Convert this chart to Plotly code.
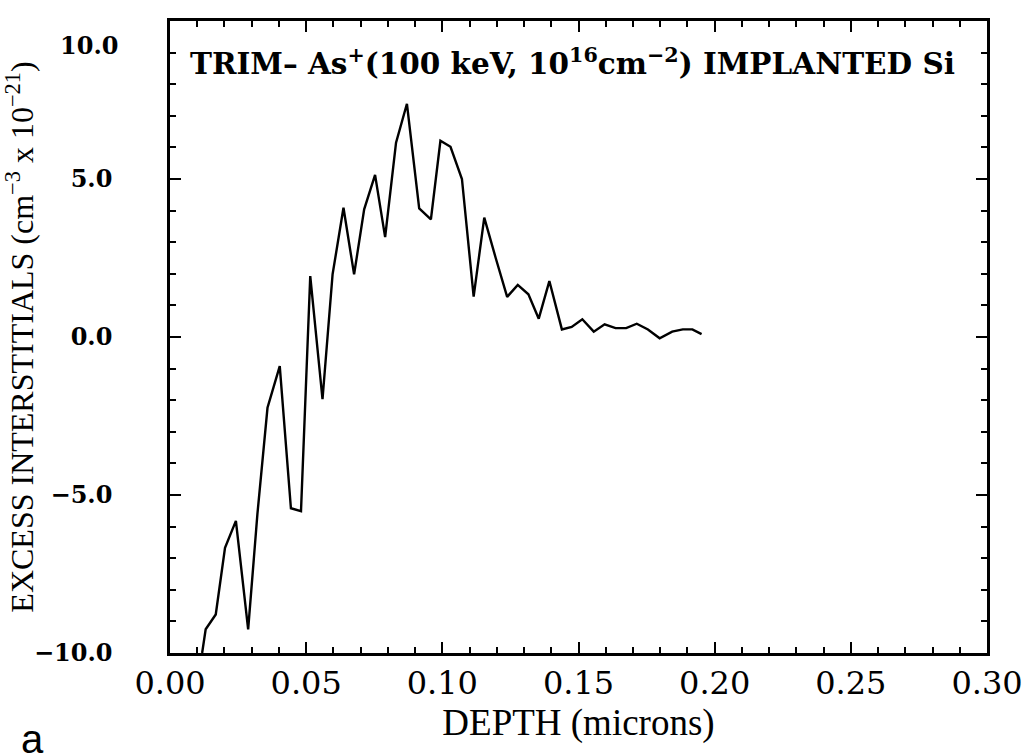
import plotly.graph_objects as go

# Depth (microns) and excess interstitials (x 10^21 cm^-3)
depth = [0.0118, 0.0131, 0.0168, 0.0202, 0.0242, 0.0287, 0.0321, 0.0358, 0.0403,
         0.0444, 0.0481, 0.0515, 0.0560, 0.0597, 0.0637, 0.0676, 0.0713, 0.0753,
         0.0790, 0.0830, 0.0870, 0.0915, 0.0958, 0.0993, 0.1030, 0.1072, 0.1115,
         0.1154, 0.1196, 0.1238, 0.1277, 0.1316, 0.1354, 0.1393, 0.1439, 0.1475,
         0.1514, 0.1556, 0.1596, 0.1636, 0.1675, 0.1714, 0.1755, 0.1798, 0.1844,
         0.1883, 0.1918, 0.1952]
excess = [-10.0, -9.25, -8.78, -6.67, -5.82, -9.25, -5.60, -2.24, -0.92,
          -5.42, -5.51, 1.93, -1.97, 1.98, 4.09, 1.98, 4.04, 5.13,
          3.16, 6.15, 7.38, 4.07, 3.72, 6.21, 6.02, 5.00, 1.28,
          3.78, 2.50, 1.27, 1.65, 1.35, 0.58, 1.77, 0.24, 0.32,
          0.56, 0.17, 0.40, 0.28, 0.28, 0.42, 0.24, -0.04, 0.17,
          0.24, 0.24, 0.09]

x_ticks = [0.00, 0.05, 0.10, 0.15, 0.20, 0.25, 0.30]
x_tick_text = ["0.00", "0.05", "0.10", "0.15", "0.20", "0.25", "0.30"]
y_ticks = [-10, -5, 0, 5, 10]
y_tick_text = ["\u221210.0", "\u22125.0", "0.0", "5.0", ""]

serif_bold = "DejaVu Serif"
serif = "Liberation Serif"

fig = go.Figure()
fig.add_trace(go.Scatter(x=depth, y=excess, mode="lines",
                         line=dict(color="black", width=2.4),
                         showlegend=False, hoverinfo="skip"))

axis_common = dict(showline=True, linecolor="black", linewidth=2.5, mirror="allticks",
                   ticks="inside", tickcolor="black", tickwidth=2, ticklen=11,
                   showgrid=False, zeroline=False, automargin=False)

fig.update_xaxes(range=[0, 0.30], tickvals=x_ticks, ticktext=x_tick_text,
                 tickfont=dict(family="DejaVu Serif", size=32, color="black"),
                 ticklabelstandoff=0,
                 minor=dict(dtick=0.01, ticks="inside", ticklen=6, tickwidth=1.6, tickcolor="black"),
                 title=dict(text="DEPTH (microns)", font=dict(family=serif, size=37, color="black"),
                            standoff=0),
                 **axis_common)
fig.update_yaxes(range=[-10, 10], tickvals=y_ticks, ticktext=y_tick_text,
                 tickfont=dict(family=serif_bold, size=24, color="black", weight="bold"),
                 ticklabelstandoff=50,
                 minor=dict(dtick=1, ticks="inside", ticklen=6, tickwidth=1.6, tickcolor="black"),
                 title=dict(text="EXCESS INTERSTITIALS (cm<sup>\u22123</sup> x 10<sup>\u221221</sup>)",
                            font=dict(family=serif, size=32, color="black"), standoff=0),
                 **axis_common)

fig.add_annotation(xref="paper", yref="paper", x=0, y=1, xanchor="right", yanchor="middle",
                   xshift=-50, yshift=-24, text="10.0", showarrow=False,
                   font=dict(family=serif_bold, size=24, color="black", weight="bold"))
fig.add_annotation(xref="paper", yref="paper", x=0, y=1, xanchor="left", yanchor="middle",
                   xshift=18, yshift=-41,
                   text="TRIM\u2013 As<sup>+</sup>(100 keV, 10<sup>16</sup>cm<sup>\u22122</sup>) IMPLANTED Si",
                   showarrow=False,
                   font=dict(family=serif_bold, size=29.5, color="black", weight="bold"))
fig.add_annotation(xref="paper", yref="paper", x=-0.185, y=-0.136, xanchor="left", yanchor="middle",
                   text="a", showarrow=False,
                   font=dict(family="Liberation Sans", size=40, color="black"))

fig.update_layout(width=1031, height=754,
                  margin=dict(l=170, r=44, t=21, b=101),
                  paper_bgcolor="white", plot_bgcolor="white")

fig.write_html("out.html")
